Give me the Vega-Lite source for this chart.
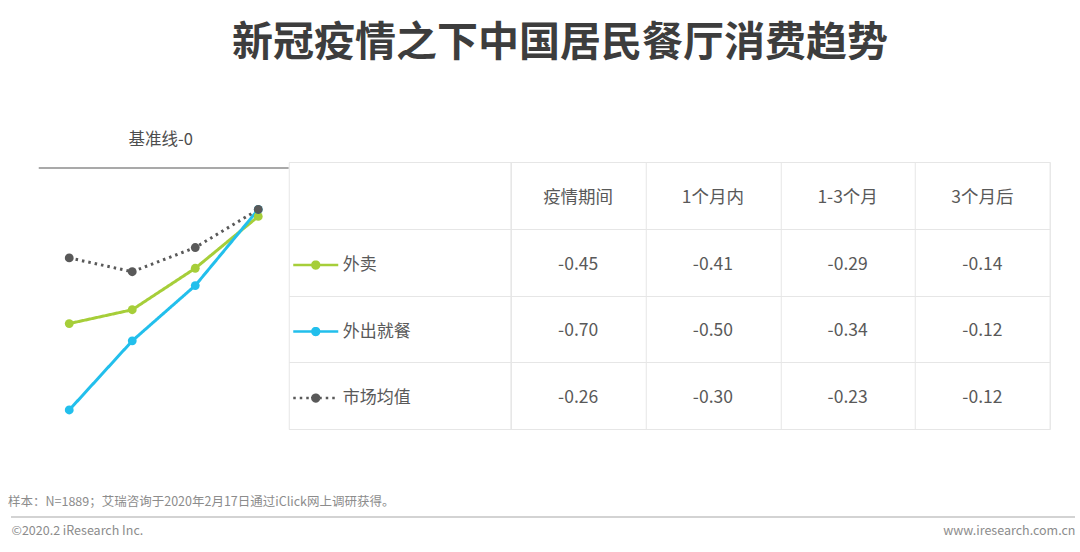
{
  "$schema": "https://vega.github.io/schema/vega-lite/v6.json",
  "padding": {"left": 8, "top": 22, "right": 6, "bottom": 12},
  "background": "white",
  "title": {
    "text": "新冠疫情之下中国居民餐厅消费趋势",
    "fontSize": 41,
    "fontWeight": "bold",
    "color": "#3d3d3d",
    "font": "Noto Sans CJK SC",
    "anchor": "middle",
    "dx": 17,
    "offset": 67
  },
  "datasets": {
    "trend": [
      {"series": "外卖", "period": "疫情期间", "value": -0.45},
      {"series": "外卖", "period": "1个月内", "value": -0.41},
      {"series": "外卖", "period": "1-3个月", "value": -0.29},
      {"series": "外卖", "period": "3个月后", "value": -0.14},
      {"series": "外出就餐", "period": "疫情期间", "value": -0.70},
      {"series": "外出就餐", "period": "1个月内", "value": -0.50},
      {"series": "外出就餐", "period": "1-3个月", "value": -0.34},
      {"series": "外出就餐", "period": "3个月后", "value": -0.12},
      {"series": "市场均值", "period": "疫情期间", "value": -0.26},
      {"series": "市场均值", "period": "1个月内", "value": -0.30},
      {"series": "市场均值", "period": "1-3个月", "value": -0.23},
      {"series": "市场均值", "period": "3个月后", "value": -0.12}
    ],
    "baseline": [{"baseline": 0}],
    "footer": [
      {"label": "©2020.2 iResearch Inc."},
      {"label": "www.iresearch.com.cn"}
    ]
  },
  "vconcat": [
    {
      "hconcat": [
        {
          "width": 250,
          "height": 267,
          "view": {"stroke": null},
          "title": {
            "text": "基准线-0",
            "fontSize": 16.5,
            "fontWeight": "normal",
            "color": "#4d4d4d",
            "anchor": "middle",
            "dx": -3,
            "offset": 14
          },
          "layer": [
            {
              "data": {"name": "baseline"},
              "mark": {"type": "rule", "color": "#8c8c8c", "strokeWidth": 1.5},
              "encoding": {
                "y": {
                  "field": "baseline",
                  "type": "quantitative",
                  "scale": {"domain": [-0.755, 0.0174], "nice": false, "zero": false},
                  "axis": null
                }
              }
            },
            {
              "data": {"name": "trend"},
              "mark": {"type": "line", "strokeWidth": 3},
              "encoding": {
                "x": {
                  "field": "period",
                  "type": "nominal",
                  "sort": ["疫情期间", "1个月内", "1-3个月", "3个月后"],
                  "scale": {"type": "point", "padding": 0.484, "align": 0.5},
                  "axis": null
                },
                "y": {"field": "value", "type": "quantitative"},
                "color": {
                  "field": "series",
                  "type": "nominal",
                  "scale": {
                    "domain": ["外卖", "外出就餐", "市场均值"],
                    "range": ["#a6ce39", "#22bfec", "#595959"]
                  },
                  "legend": {
                    "orient": "none",
                    "legendX": 253,
                    "legendY": 79,
                    "title": null,
                    "padding": 0,
                    "symbolType": "M-1,0H1M0.15,0A0.15,0.15,0,1,1,-0.15,0A0.15,0.15,0,1,1,0.15,0A0.15,0.15,0,1,1,-0.15,0A0.15,0.15,0,1,1,0.15,0A0.15,0.15,0,1,1,-0.15,0A0.15,0.15,0,1,1,0.15,0A0.15,0.15,0,1,1,-0.15,0A0.15,0.15,0,1,1,0.15,0A0.15,0.15,0,1,1,-0.15,0A0.15,0.15,0,1,1,0.15,0Z",
                    "symbolSize": 2025,
                    "symbolStrokeWidth": 2.5,
                    "rowPadding": 33.5,
                    "labelFontSize": 17,
                    "labelColor": "#595959",
                    "labelOffset": 3,
                    "encode": {
                      "symbols": {
                        "update": {
                          "fill": {"scale": "color", "field": "value"},
                          "opacity": {"value": 1}
                        }
                      }
                    }
                  }
                },
                "strokeDash": {
                  "field": "series",
                  "type": "nominal",
                  "scale": {
                    "domain": ["外卖", "外出就餐", "市场均值"],
                    "range": [[1, 0], [1, 0], [2.5, 4]]
                  },
                  "legend": null
                }
              }
            },
            {
              "data": {"name": "trend"},
              "mark": {"type": "point", "filled": true, "size": 78, "opacity": 1},
              "encoding": {
                "x": {
                  "field": "period",
                  "type": "nominal",
                  "sort": ["疫情期间", "1个月内", "1-3个月", "3个月后"]
                },
                "y": {"field": "value", "type": "quantitative"},
                "color": {"field": "series", "type": "nominal"}
              }
            }
          ]
        },
        {
          "width": 222,
          "height": 267,
          "data": {"name": "trend"},
          "mark": {"type": "rect", "opacity": 0},
          "encoding": {
            "y": {
              "field": "series",
              "type": "nominal",
              "scale": {"domain": ["表头", "外卖", "外出就餐", "市场均值"], "paddingInner": 0, "paddingOuter": 0},
              "axis": {"labels": false, "ticks": false, "domain": false, "title": null, "grid": true, "tickBand": "extent", "gridColor": "#e6e6e6"}
            }
          }
        },
        {
          "width": 539,
          "height": 267,
          "data": {"name": "trend"},
          "encoding": {
            "x": {
              "field": "period",
              "type": "nominal",
              "scale": {"domain": ["疫情期间", "1个月内", "1-3个月", "3个月后"], "paddingInner": 0, "paddingOuter": 0},
              "axis": {"orient": "top", "labels": false, "ticks": false, "domain": false, "title": null, "grid": true, "tickBand": "extent", "gridColor": "#e6e6e6"}
            }
          },
          "layer": [
            {
              "mark": {"type": "text", "fontSize": 17.5, "color": "#595959", "dy": 2.5},
              "encoding": {
                "y": {
                  "field": "series",
                  "type": "nominal",
                  "scale": {"domain": ["表头", "外卖", "外出就餐", "市场均值"], "paddingInner": 0, "paddingOuter": 0},
                  "axis": {"labels": false, "ticks": false, "domain": false, "title": null, "grid": true, "tickBand": "extent", "gridColor": "#e6e6e6"}
                },
                "text": {"field": "value", "type": "quantitative", "format": ".2f"}
              }
            },
            {
              "transform": [{"aggregate": [{"op": "count", "as": "n"}], "groupby": ["period"]}],
              "mark": {"type": "text", "fontSize": 17.5, "color": "#595959", "dy": 2.5},
              "encoding": {
                "y": {"datum": "表头", "type": "nominal"},
                "text": {"field": "period", "type": "nominal"}
              }
            }
          ]
        }
      ],
      "spacing": 0,
      "bounds": "flush",
      "resolve": {"legend": {"color": "independent", "strokeDash": "independent"}}
    },
    {
      "width": 1064,
      "height": 2,
      "view": {"stroke": null},
      "data": {"name": "footer"},
      "title": {
        "text": "样本：N=1889；艾瑞咨询于2020年2月17日通过iClick网上调研获得。",
        "anchor": "start",
        "fontSize": 12.5,
        "fontWeight": "normal",
        "color": "#8c8c8c",
        "offset": 6
      },
      "mark": {"type": "line", "color": "#c4c4c4", "strokeWidth": 1.5},
      "encoding": {
        "x": {
          "field": "label",
          "type": "nominal",
          "sort": null,
          "scale": {"type": "point", "padding": 0},
          "axis": {"orient": "bottom", "labelFlush": true, "ticks": false, "domain": false, "grid": false, "title": null, "labelFontSize": 12.5, "labelColor": "#8c8c8c", "labelPadding": 6, "labelAngle": 0}
        }
      }
    }
  ],
  "spacing": 65,
  "center": true,
  "resolve": {"legend": {"color": "independent", "strokeDash": "independent"}},
  "config": {
    "font": "Noto Sans CJK SC",
    "view": {"stroke": "#e6e6e6", "strokeWidth": 1},
    "locale": {"number": {"decimal": ".", "thousands": ",", "grouping": [3], "currency": ["", ""], "minus": "-"}}
  }
}
